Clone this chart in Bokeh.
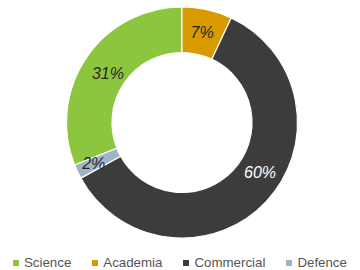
import numpy as np
from bokeh.plotting import figure
from bokeh.models import ColumnDataSource, Range1d, Legend, LegendItem
from bokeh.core.properties import value
from bokeh.embed import file_html
from bokeh.resources import INLINE

categories = ["Science", "Academia", "Commercial", "Defence"]
shares = [31, 7, 60, 2]
colors = ["#8cc63e", "#d99a00", "#3c3c3c", "#9fb4c7"]
label_colors = ["#262626", "#262626", "#ffffff", "#262626"]
label_dx = [2, 0, 11, -5]
label_dy = [3, 0, -13, 2]

W, H = 360, 270
cx, cy = 181.5, H - 122.0
r_out, r_in = 115.5, 70.0
r_lab = 92.0

vals = np.array(shares, dtype=float)
frac = vals / vals.sum()
cum = np.concatenate([[0], np.cumsum(frac)]) - frac[0]
# clockwise from 12 o'clock; first category ends at the top
start = np.pi / 2 - cum[:-1] * 2 * np.pi
end = np.pi / 2 - cum[1:] * 2 * np.pi
mid = (start + end) / 2

src = ColumnDataSource(dict(
    cat=categories, start=start, end=end, color=colors,
    lx=cx + r_lab * np.cos(mid), ly=cy + r_lab * np.sin(mid),
    lab=[f"{v:.0f}%" for v in vals], lcol=label_colors,
    dx=label_dx, dy=label_dy,
))

p = figure(width=W, height=H, output_backend="svg", toolbar_location=None,
           x_range=Range1d(0, W), y_range=Range1d(0, H), min_border=0)
p.axis.visible = False
p.grid.visible = False
p.outline_line_color = None

wr = p.annular_wedge(x=cx, y=cy, inner_radius=r_in, outer_radius=r_out,
                     start_angle="start", end_angle="end", direction="clock",
                     fill_color="color", line_color="white", line_width=1.2, source=src)

p.text(x="lx", y="ly", text="lab", text_color="lcol", source=src,
       x_offset="dx", y_offset="dy",
       text_font=value("Liberation Sans"), text_font_style="italic",
       text_font_size="16px", text_align="center", text_baseline="middle")

legend = Legend(items=[LegendItem(label=c, renderers=[wr], index=i) for i, c in enumerate(categories)],
                orientation="horizontal", location=(11, 0),
                glyph_width=9, glyph_height=9, label_standoff=4, spacing=19,
                padding=0, margin=0, label_height=13,
                label_text_font="Liberation Sans", label_text_font_size="13.3px",
                label_text_color="#555555",
                background_fill_alpha=0, border_line_color=None)
p.add_layout(legend, "center")

open("out.html", "w").write(file_html(p, INLINE))
